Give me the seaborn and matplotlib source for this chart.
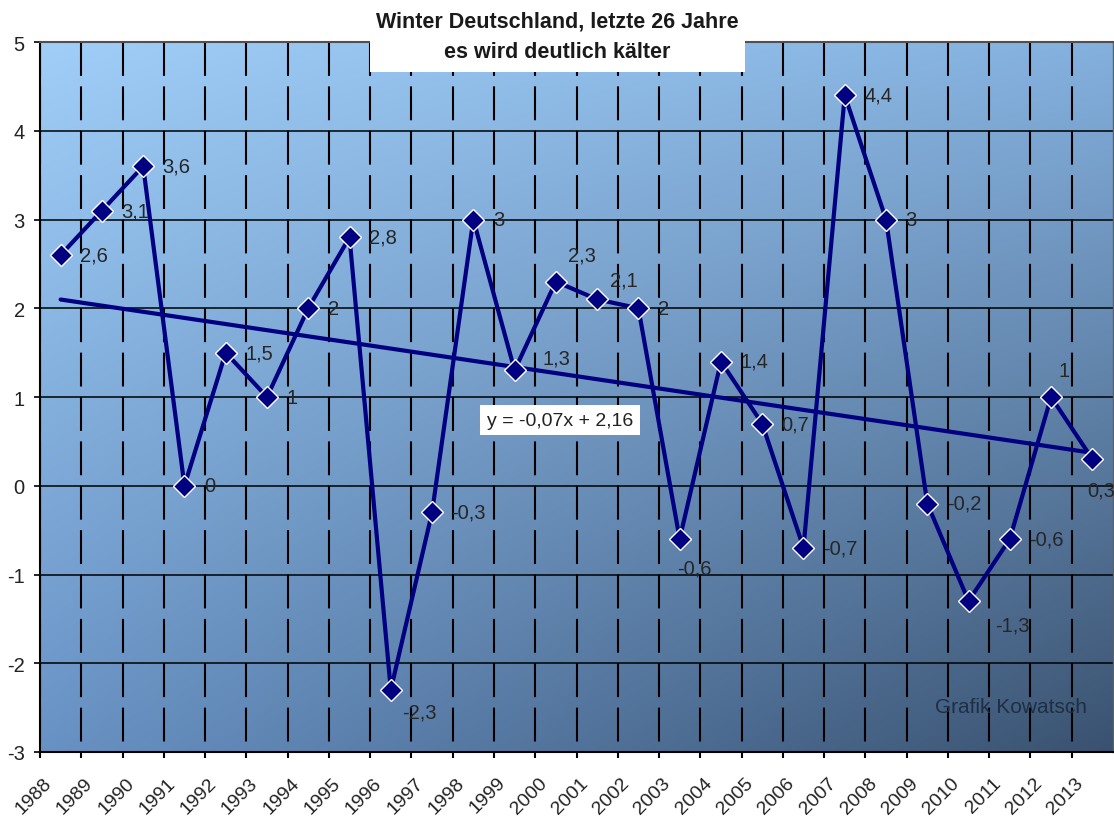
import matplotlib
matplotlib.use('Agg')
import matplotlib.pyplot as plt
import matplotlib.transforms as mtransforms
from matplotlib.patches import Rectangle
import seaborn as sns
import numpy as np
import pandas as pd

# dati: temperature medie invernali in Germania
jahre = [str(j) for j in range(1988, 2014)]
werte = [2.6, 3.1, 3.6, 0, 1.5, 1, 2, 2.8, -2.3, -0.3, 3, 1.3, 2.3,
         2.1, 2, -0.6, 1.4, 0.7, -0.7, 4.4, 3, -0.2, -1.3, -0.6, 1, 0.3]
y_ticks = [-3, -2, -1, 0, 1, 2, 3, 4, 5]

titel1 = "Winter Deutschland, letzte 26 Jahre"
titel2 = "es wird deutlich kälter"
quelle = "Grafik Kowatsch"
gleichung = "y = -0,07x + 2,16"

sns.set_theme(style='white')
plt.rcParams['font.family'] = ['Liberation Sans', 'DejaVu Sans']
plt.rcParams['lines.scale_dashes'] = False

df = pd.DataFrame({'pos': np.arange(len(werte)) + 0.5, 'wert': werte})

fig = plt.figure(figsize=(11.14, 8.20), dpi=100)
ax = fig.add_axes([40 / 1114, 1 - 753 / 820, 1073 / 1114, 710 / 820])

# sfondo sfumato
tl = np.array([160, 206, 248]) / 255
tr = np.array([132, 176, 222]) / 255
bl = np.array([104, 146, 196]) / 255
br = np.array([58, 82, 112]) / 255
u = np.linspace(0, 1, 200)[None, :, None]
v = np.linspace(0, 1, 200)[:, None, None]
grad = (1 - u) * (1 - v) * tl + u * (1 - v) * tr + (1 - u) * v * bl + u * v * br
ax.imshow(grad, extent=(0, 26, -3, 5), aspect='auto', zorder=-1, interpolation='bilinear')

# linea di tendenza
sns.regplot(data=df, x='pos', y='wert', scatter=False, ci=None, truncate=True,
            color='#000080', line_kws={'lw': 3, 'zorder': 3}, ax=ax)

# serie
sns.lineplot(data=df, x='pos', y='wert', color='#000080', lw=3, marker='D',
             markersize=11, markeredgecolor='white', markeredgewidth=1,
             zorder=4, ax=ax)

# etichette dei valori
offsets = {8: (8, -16), 11: (20, 9), 12: (9, 19), 13: (9, 14), 15: (-2, -21),
           22: (19, -17), 24: (5, 19), 25: (-4, -22)}
for i, w in enumerate(werte):
    txt = f"{w:g}".replace('.', ',')
    ax.annotate(txt, (i + 0.5, w), xytext=offsets.get(i, (14, 0)),
                textcoords='offset points', ha='left', va='center',
                fontsize=14.5, color='#262626', zorder=5)

# equazione della retta
ax.text(0.4846, 0.4676, gleichung, transform=ax.transAxes, ha='center', va='center',
        fontsize=14, color='#222222', zorder=6,
        bbox=dict(boxstyle='square,pad=0.35', fc='white', ec='none'))

ax.text(0.834, 0.0634, quelle, transform=ax.transAxes, ha='left', va='center',
        fontsize=15, color='#1f2f45', zorder=6)

ax.set_xlim(0, 26)
ax.set_ylim(-3, 5)
ax.set_xlabel('')
ax.set_ylabel('')
ax.set_xticks(range(len(jahre)))
ax.set_xticklabels(jahre, rotation=45, ha='right', va='center', rotation_mode='anchor',
                   fontsize=14, color='#222222')
ax.set_yticks(y_ticks)
ax.set_yticklabels([str(t) for t in y_ticks], fontsize=14.5, color='#222222')
ax.tick_params(axis='x', direction='out', length=4, width=1.5, color='black', pad=16, bottom=True)
ax.tick_params(axis='y', direction='out', length=4, width=1.2, color='black', pad=7, left=True)
shift = mtransforms.ScaledTranslation(0.09, 0, fig.dpi_scale_trans)
for lab in ax.get_xticklabels():
    lab.set_transform(lab.get_transform() + shift)

ax.yaxis.grid(True, color='black', lw=1.1, ls='-')
ax.xaxis.grid(True, color='black', lw=1.5, ls=(24.4, (24.4, 7.55)))
ax.set_axisbelow(True)

for s in ['left', 'bottom']:
    ax.spines[s].set_color('black')
    ax.spines[s].set_linewidth(1.5)
ax.spines['top'].set_color('#505050')
ax.spines['top'].set_linewidth(1.5)
ax.spines['right'].set_color('#606060')
ax.spines['right'].set_linewidth(1)

# riquadro del titolo
fig.patches.append(Rectangle((370 / 1114, 1 - 73 / 820), 375 / 1114, 73 / 820,
                             transform=fig.transFigure, fc='white', ec='none', zorder=5))
fig.text(0.5, 1 - 22 / 820, titel1, ha='center', va='center', fontsize=15.5,
         fontweight='bold', color='#1a1a1a', zorder=6)
fig.text(0.5, 1 - 52 / 820, titel2, ha='center', va='center', fontsize=15.5,
         fontweight='bold', color='#1a1a1a', zorder=6)

fig.savefig('out.png', dpi=100, facecolor='white')
